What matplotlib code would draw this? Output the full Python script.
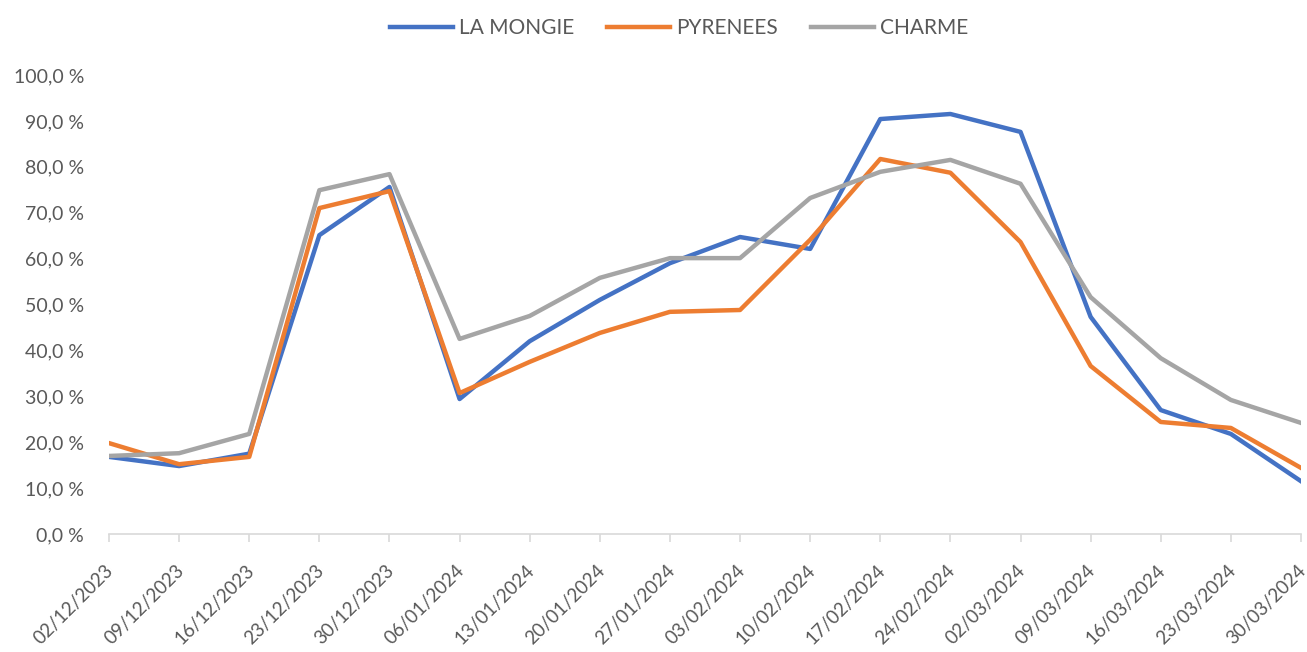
import matplotlib
matplotlib.use("Agg")
import matplotlib.pyplot as plt
import matplotlib.transforms as mtransforms
import numpy as np
from matplotlib.ticker import FuncFormatter

dates = ["02/12/2023", "09/12/2023", "16/12/2023", "23/12/2023", "30/12/2023",
         "06/01/2024", "13/01/2024", "20/01/2024", "27/01/2024", "03/02/2024",
         "10/02/2024", "17/02/2024", "24/02/2024", "02/03/2024", "09/03/2024",
         "16/03/2024", "23/03/2024", "30/03/2024"]

la_mongie = [16.8, 14.8, 17.5, 65.1, 75.6, 29.4, 42.0, 51.0, 59.0, 64.7,
             62.1, 90.4, 91.5, 87.6, 47.3, 27.0, 21.8, 11.5]
pyrenees = [19.8, 15.2, 16.8, 71.0, 74.7, 30.7, 37.5, 43.8, 48.4, 48.8,
            64.1, 81.7, 78.7, 63.6, 36.6, 24.4, 23.1, 14.4]
charme = [17.0, 17.6, 21.8, 74.9, 78.4, 42.5, 47.5, 55.8, 60.1, 60.1,
          73.2, 78.9, 81.5, 76.3, 51.6, 38.3, 29.2, 24.2]

plt.rcParams['font.family'] = ['Lato', 'DejaVu Sans']
txt = '#595959'

fig = plt.figure(figsize=(13.07, 6.52), dpi=100)
ax = fig.add_axes([0.0834, 0.181, 0.912, 0.704])

x = np.arange(len(dates))
ax.plot(x, la_mongie, color='#4472C4', lw=3.2, label='LA MONGIE', solid_joinstyle='round')
ax.plot(x, pyrenees, color='#ED7D31', lw=3.2, label='PYRENEES', solid_joinstyle='round')
ax.plot(x, charme, color='#A5A5A5', lw=3.2, label='CHARME', solid_joinstyle='round')

ax.set_xlim(0, len(dates) - 1)
ax.set_ylim(0, 100)
ax.set_yticks(np.arange(0, 101, 10))
ax.yaxis.set_major_formatter(FuncFormatter(lambda v, p: f"{v:.1f} %".replace('.', ',')))
ax.set_xticks(x)
ax.set_xticklabels(dates, rotation=45, ha='right', rotation_mode='anchor')

for s in ['top', 'right', 'left']:
    ax.spines[s].set_visible(False)
ax.spines['bottom'].set_color('#d9d9d9')
ax.spines['bottom'].set_linewidth(1.2)
ax.spines['bottom'].set_clip_on(False)
ax.tick_params(axis='y', length=0, labelsize=14, labelcolor=txt, pad=18)
ax.tick_params(axis='x', length=6, width=1.2, color='#d9d9d9', labelsize=13.5, labelcolor=txt, pad=4)

# nudge the date labels a bit lower (after tick_params, which resets transforms)
offset = mtransforms.ScaledTranslation(-4 / 100, -14 / 100, fig.dpi_scale_trans)
for lab in ax.get_xticklabels():
    lab.set_transform(lab.get_transform() + offset)

leg = ax.legend(loc='upper center', bbox_to_anchor=(0.5 - 0.0834 / 2 + 0.02, 1.165), ncol=3, frameon=False,
                fontsize=15, handlelength=3, columnspacing=1.6, handletextpad=0.3)
for t in leg.get_texts():
    t.set_color(txt)

fig.savefig('out.png', dpi=100)
